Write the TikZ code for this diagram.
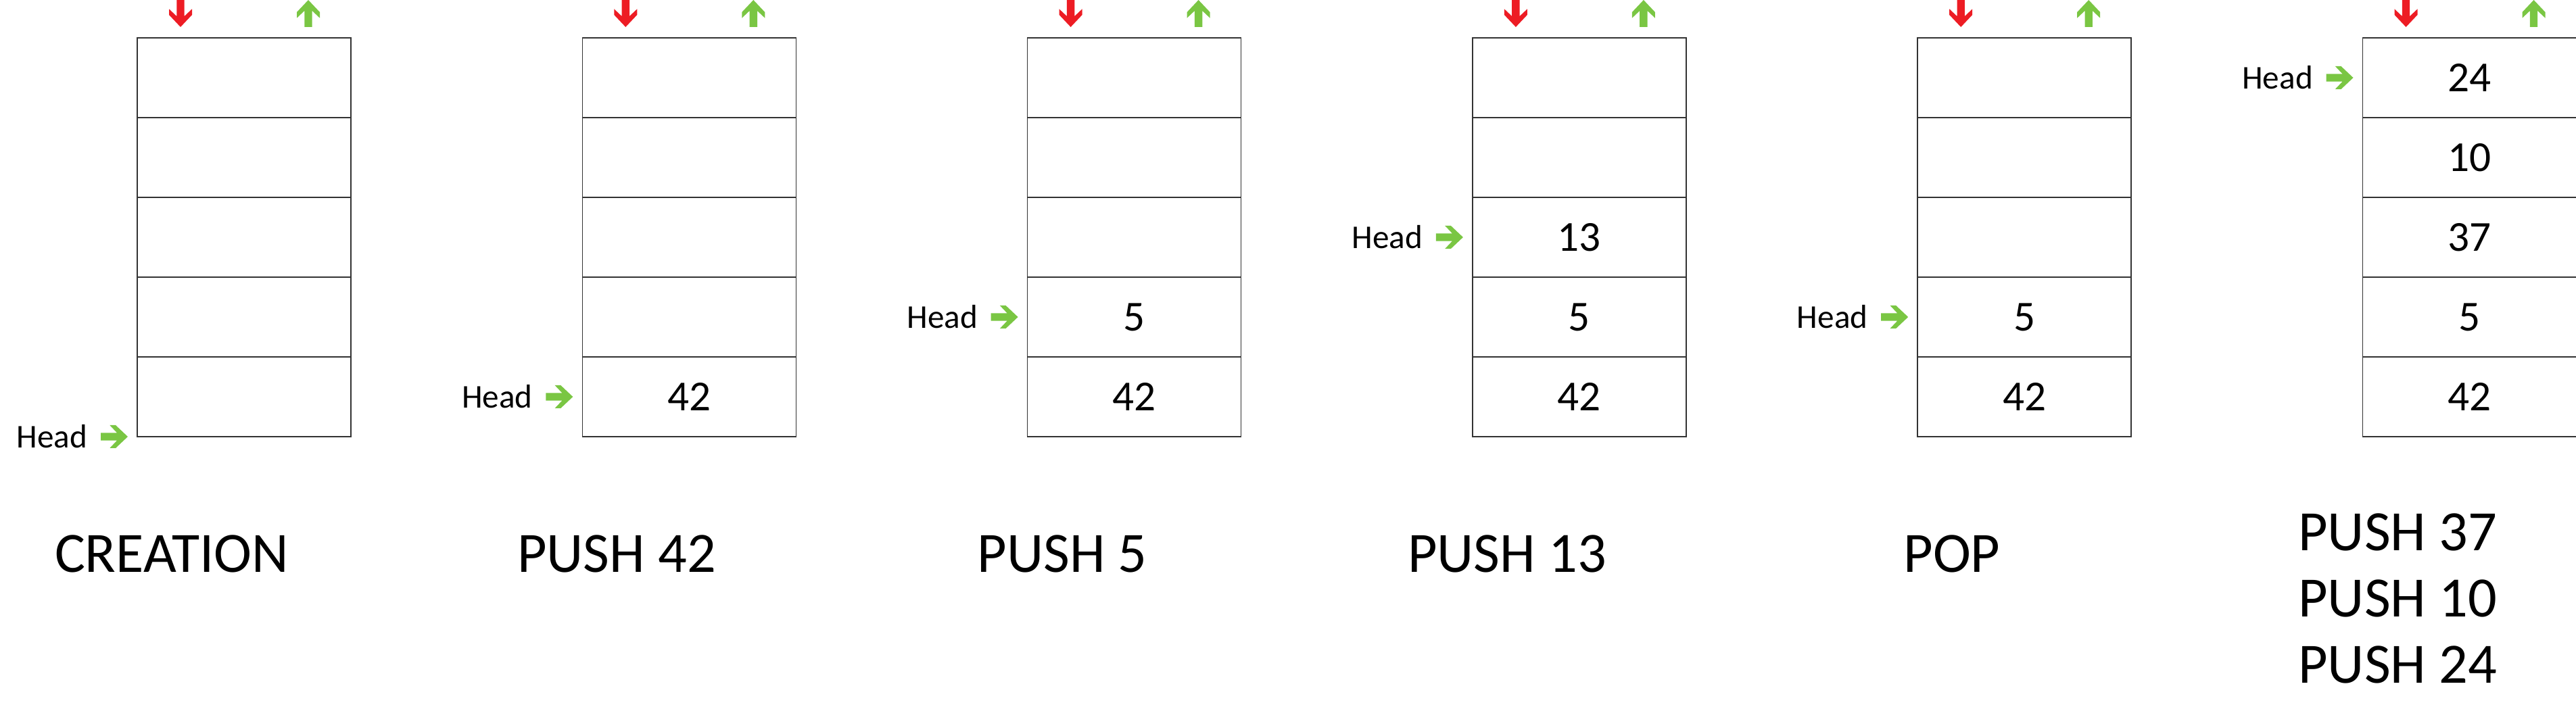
\documentclass[tikz,border=0pt]{standalone}
\usepackage{fontspec}
\setmainfont{Carlito}
\usetikzlibrary{positioning,calc}
\definecolor{popred}{RGB}{237,28,36}
\definecolor{pushgreen}{RGB}{122,198,67}

\tikzset{
	cell/.style={draw=black!80, line width=0.45pt, minimum width=3.16cm, minimum height=1.18cm,
		inner sep=0pt, outer sep=0pt, font=\fontsize{18}{22}\selectfont},
	headtxt/.style={inner sep=0pt, font=\fontsize{14}{17}\selectfont},
	optxt/.style={inner sep=0pt, anchor=base, align=center, font=\fontsize{24}{28}\selectfont},
	blk/.pic={\fill[pic actions] (0,0.057) -- (0.24,0.057) -- (0.133,0.17) -- (0.22,0.17) -- (0.4,0)
		-- (0.22,-0.17) -- (0.133,-0.17) -- (0.24,-0.057) -- (0,-0.057) -- cycle;}
}

\begin{document}
\begin{tikzpicture}
	\useasboundingbox (0,0) rectangle (38.1,10.77);
	\foreach \i/\va/\vb/\vc/\vd/\ve in {1/{}/{}/{}/{}/{}, 2/{}/{}/{}/{}/42, 3/{}/{}/{}/5/42,
		4/{}/{}/13/5/42, 5/{}/{}/{}/5/42, 6/24/10/37/5/42}{
		\node[cell] (s\i-1) at ({3.61+6.583*(\i-1)},9.62) {\va};
		\node[cell,below=0pt of s\i-1] (s\i-2) {\vb};
		\node[cell,below=0pt of s\i-2] (s\i-3) {\vc};
		\node[cell,below=0pt of s\i-3] (s\i-4) {\vd};
		\node[cell,below=0pt of s\i-4] (s\i-5) {\ve};
		\pic[fill=popred,rotate=-90] at ($(s\i-1.north west)+(0.64,0.56)$) {blk};
		\pic[fill=pushgreen,rotate=90] at ($(s\i-1.north west)+(2.53,0.16)$) {blk};
	}
	\node[headtxt,left=0.73cm of s1-5.south west] (h1) {Head};
	\pic[fill=pushgreen] at ([xshift=-0.54cm]s1-5.south west) {blk};
	\node[headtxt,left=0.73cm of s2-5] (h2) {Head};
	\pic[fill=pushgreen] at ([xshift=-0.54cm]s2-5.west) {blk};
	\node[headtxt,left=0.73cm of s3-4] (h3) {Head};
	\pic[fill=pushgreen] at ([xshift=-0.54cm]s3-4.west) {blk};
	\node[headtxt,left=0.73cm of s4-3] (h4) {Head};
	\pic[fill=pushgreen] at ([xshift=-0.54cm]s4-3.west) {blk};
	\node[headtxt,left=0.73cm of s5-4] (h5) {Head};
	\pic[fill=pushgreen] at ([xshift=-0.54cm]s5-4.west) {blk};
	\node[headtxt,left=0.73cm of s6-1] (h6) {Head};
	\pic[fill=pushgreen] at ([xshift=-0.54cm]s6-1.west) {blk};

	\node[optxt] (op1) at (2.54,2.30) {CREATION};
	\node[optxt] (op2) at (9.12,2.30) {PUSH 42};
	\node[optxt] (op3) at (15.71,2.30) {PUSH 5};
	\node[optxt] (op4) at (22.29,2.30) {PUSH 13};
	\node[optxt] (op5) at (28.87,2.30) {POP};
	\node[optxt] (op6) at (35.46,0.66) {PUSH 37\\PUSH 10\\PUSH 24};
\end{tikzpicture}
\end{document}
